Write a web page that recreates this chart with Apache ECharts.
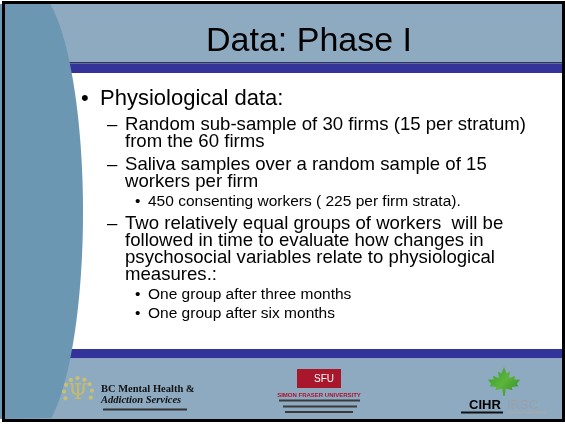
<!DOCTYPE html>
<html lang="en">
<head>
<meta charset="UTF-8">
<title>Data: Phase I</title>
<style>
    *{
        margin: 0;
        padding: 0;
    }
    body{
        background: #FFFFFF;
    }
    #slide{
        width: 565px;
        height: 424px;
    }
</style>
</head>
<body>
<div id="slide"></div>
<script src="https://cdn.jsdelivr.net/npm/echarts/dist/echarts.min.js"></script>
<script>
    // slide text
    const slideTitle = 'Data: Phase I';
    const paraLevels = [1, 2, 2, 3, 2, 3, 3];
    const paraLines = [
        ['Physiological data:'],
        ['Random sub-sample of 30 firms (15 per stratum)', 'from the 60 firms'],
        ['Saliva samples over a random sample of 15', 'workers per firm'],
        ['450 consenting workers ( 225 per firm strata).'],
        ['Two relatively equal groups of workers  will be', 'followed in time to evaluate how changes in',
            'psychosocial variables relate to physiological', 'measures.:'],
        ['One group after three months'],
        ['One group after six months']
    ];
    const bcLogoText = ['BC Mental Health &', 'Addiction Services'];
    const sfuLogoText = ['SFU', 'SIMON FRASER UNIVERSITY'];
    const cihrLogoText = ['CIHR', 'IRSC'];

    // look of each outline level
    const levelFont = {1: 22, 2: 18.6, 3: 15.5};
    const levelLineH = {1: 22, 2: 17, 3: 15};
    const levelSpace = {1: 0, 2: 6, 3: 4};
    const levelMark = {1: '\u2022', 2: '\u2013', 3: '\u2022'};
    const levelMarkX = {1: 81, 2: 107, 3: 135};
    const levelTextX = {1: 100, 2: 125, 3: 148};

    const bandColor = '#8DAAC1';
    const curveColor = '#6B97B2';
    const stripeColor = '#333399';
    const font = 'Liberation Sans, Arial, sans-serif';

    let els = [];

    // background bands
    els.push({type: 'rect', shape: {x: 0, y: 0, width: 565, height: 424}, style: {fill: '#FFFFFF'}});
    els.push({type: 'rect', shape: {x: 4, y: 4, width: 558, height: 58}, style: {fill: bandColor}});
    els.push({type: 'rect', shape: {x: 4, y: 62, width: 558, height: 1.5}, style: {fill: '#2B3A5C'}});
    els.push({type: 'rect', shape: {x: 4, y: 63.5, width: 558, height: 9.5}, style: {fill: stripeColor}});
    els.push({type: 'rect', shape: {x: 4, y: 349, width: 558, height: 9.5}, style: {fill: stripeColor}});
    els.push({type: 'rect', shape: {x: 4, y: 358.5, width: 558, height: 61}, style: {fill: bandColor}});

    // curved panel on the left
    let curve = [[0, 4]];
    for (let y = 4; y <= 419; y += 3) {
        let t = (y - 212) / 225;
        curve.push([30 + 53 * Math.sqrt(Math.max(0, 1 - t * t)), y]);
    }
    curve.push([0, 419]);
    els.push({type: 'polygon', shape: {points: curve}, style: {fill: curveColor}});

    // frame
    els.push({type: 'rect', shape: {x: 3.5, y: 2.5, width: 560, height: 418}, style: {fill: null, stroke: '#000000', lineWidth: 3}});

    // title
    els.push({
        type: 'text', x: 309, y: 42,
        style: {text: slideTitle, fill: '#000000', fontSize: 34, fontFamily: font, align: 'center', verticalAlign: 'middle'}
    });

    // bullet paragraphs
    let paraTop = 88;
    for (let i = 0; i < paraLines.length; i++) {
        let lv = paraLevels[i];
        if (i > 0) paraTop += levelSpace[lv];
        els.push({
            type: 'text', x: levelMarkX[lv], y: paraTop,
            style: {text: levelMark[lv], fill: '#000000', fontSize: levelFont[lv], fontFamily: font,
                lineHeight: levelLineH[lv], verticalAlign: 'top'}
        });
        els.push({
            type: 'text', x: levelTextX[lv], y: paraTop,
            style: {text: paraLines[i].join('\n'), fill: '#000000', fontSize: levelFont[lv], fontFamily: font,
                lineHeight: levelLineH[lv], verticalAlign: 'top'}
        });
        paraTop += paraLines[i].length * levelLineH[lv];
    }

    // BC Mental Health logo
    let emblemDots = [];
    for (let k = 0; k < 9; k++) {
        let a = Math.PI * (0.85 + k * 0.16);
        emblemDots.push({
            type: 'circle',
            shape: {cx: 78 + 14 * Math.cos(a), cy: 392 + 14 * Math.sin(a), r: 2.1},
            style: {fill: '#C9C06F'}
        });
    }
    els = els.concat(emblemDots);
    els.push({
        type: 'text', x: 78, y: 393,
        style: {text: '\u03A8', fill: '#C4BA6A', fontSize: 22, fontFamily: 'DejaVu Serif', align: 'center', verticalAlign: 'middle'}
    });
    els.push({
        type: 'text', x: 101, y: 389,
        style: {text: bcLogoText[0], fill: '#111111', fontSize: 10.5, fontWeight: 'bold', fontFamily: 'Liberation Serif', verticalAlign: 'middle'}
    });
    els.push({
        type: 'text', x: 101, y: 400,
        style: {text: bcLogoText[1], fill: '#111111', fontSize: 10.5, fontWeight: 'bold', fontStyle: 'italic', fontFamily: 'Liberation Serif', verticalAlign: 'middle'}
    });
    els.push({type: 'rect', shape: {x: 103, y: 408.5, width: 84, height: 2}, style: {fill: '#333333'}});

    // SFU logo
    els.push({type: 'rect', shape: {x: 297, y: 369, width: 44, height: 19}, style: {fill: '#A8172B'}});
    els.push({
        type: 'text', x: 324, y: 379,
        style: {text: sfuLogoText[0], fill: '#FFFFFF', fontSize: 10, fontFamily: font, align: 'center', verticalAlign: 'middle'}
    });
    els.push({
        type: 'text', x: 319, y: 395.5,
        style: {text: sfuLogoText[1], fill: '#B0102A', fontSize: 6, fontWeight: 'bold', fontFamily: font, align: 'center', verticalAlign: 'middle'}
    });
    els.push({type: 'rect', shape: {x: 279, y: 399.5, width: 81, height: 2}, style: {fill: '#3A3A3A'}});
    els.push({type: 'rect', shape: {x: 283, y: 405.5, width: 74, height: 2}, style: {fill: '#3A3A3A'}});
    els.push({type: 'rect', shape: {x: 285, y: 411, width: 68, height: 2}, style: {fill: '#3A3A3A'}});

    // CIHR logo with maple leaf
    let leafUnit = [[0, -1], [0.15, -0.6], [0.35, -0.72], [0.3, -0.3], [0.65, -0.45], [0.6, -0.22], [0.95, -0.2],
        [0.75, 0.05], [0.85, 0.2], [0.45, 0.25], [0.5, 0.45], [0.1, 0.35], [0.05, 0.8], [-0.05, 0.8], [-0.1, 0.35],
        [-0.5, 0.45], [-0.45, 0.25], [-0.85, 0.2], [-0.75, 0.05], [-0.95, -0.2], [-0.6, -0.22], [-0.65, -0.45],
        [-0.3, -0.3], [-0.35, -0.72], [-0.15, -0.6]];
    els.push({
        type: 'polygon',
        shape: {points: leafUnit.map(p => [504 + 17 * p[0], 383 + 16 * p[1]])},
        style: {
            fill: new echarts.graphic.LinearGradient(0, 0, 1, 1, [
                {offset: 0, color: '#2F9A2C'}, {offset: 0.5, color: '#5DB53A'}, {offset: 1, color: '#2A8A25'}
            ])
        }
    });
    els.push({
        type: 'text', x: 469, y: 405,
        style: {text: cihrLogoText[0], fill: '#000000', fontSize: 13, fontWeight: 'bold', fontFamily: font, verticalAlign: 'middle'}
    });
    els.push({type: 'rect', shape: {x: 461, y: 411.5, width: 42, height: 2}, style: {fill: '#111111'}});
    els.push({
        type: 'text', x: 507, y: 405,
        style: {text: cihrLogoText[1], fill: '#9A9FA6', fontSize: 13, fontFamily: font, verticalAlign: 'middle'}
    });
    els.push({type: 'rect', shape: {x: 507, y: 411.5, width: 40, height: 2}, style: {fill: '#A3A8AE'}});

    let myChart = echarts.init(document.getElementById('slide'));
    myChart.setOption({
        animation: false,
        graphic: {elements: els}
    });
</script>
</body>
</html>
